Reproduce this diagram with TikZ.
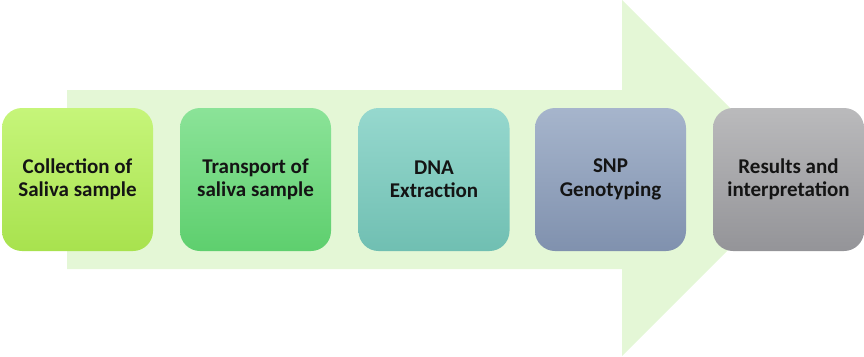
\documentclass[tikz,border=0pt]{standalone}
\usepackage{fontspec}
\setmainfont{Carlito}
\definecolor{arrowfill}{RGB}{228,247,214}
\definecolor{aT}{RGB}{198,245,122}
\definecolor{aB}{RGB}{168,226,78}
\definecolor{bT}{RGB}{139,227,152}
\definecolor{bB}{RGB}{94,207,110}
\definecolor{cT}{RGB}{150,216,206}
\definecolor{cB}{RGB}{112,191,178}
\definecolor{dT}{RGB}{166,181,204}
\definecolor{dB}{RGB}{128,145,174}
\definecolor{eT}{RGB}{186,186,188}
\definecolor{eB}{RGB}{148,148,152}
\begin{document}
\begin{tikzpicture}[x=1pt,y=-1pt,
  stepbox/.style={rounded corners=20pt, minimum width=151pt, minimum height=143pt,
    inner sep=0pt, align=center, text=black!92,
    font=\fontsize{21}{23.5}\selectfont\bfseries}]
\useasboundingbox (0,0) rectangle (864,356);
\fill[arrowfill] (67,90) -- (622,90) -- (622,0) -- (800,178) -- (622,356) -- (622,269) -- (67,269) -- cycle;
\node[stepbox, top color=aT, bottom color=aB] (s1) at (77.5,179.5) {Collection of\\Saliva sample};
\node[stepbox, top color=bT, bottom color=bB] (s2) at (255.5,179.5) {Transport of\\saliva sample};
\node[stepbox, top color=cT, bottom color=cB] (s3) at (434,179.5) {DNA\\Extraction};
\node[stepbox, top color=dT, bottom color=dB] (s4) at (610.5,179.5) {SNP\\Genotyping};
\node[stepbox, top color=eT, bottom color=eB] (s5) at (788.5,179.5) {Results and\\interpretation};
\end{tikzpicture}
\end{document}
